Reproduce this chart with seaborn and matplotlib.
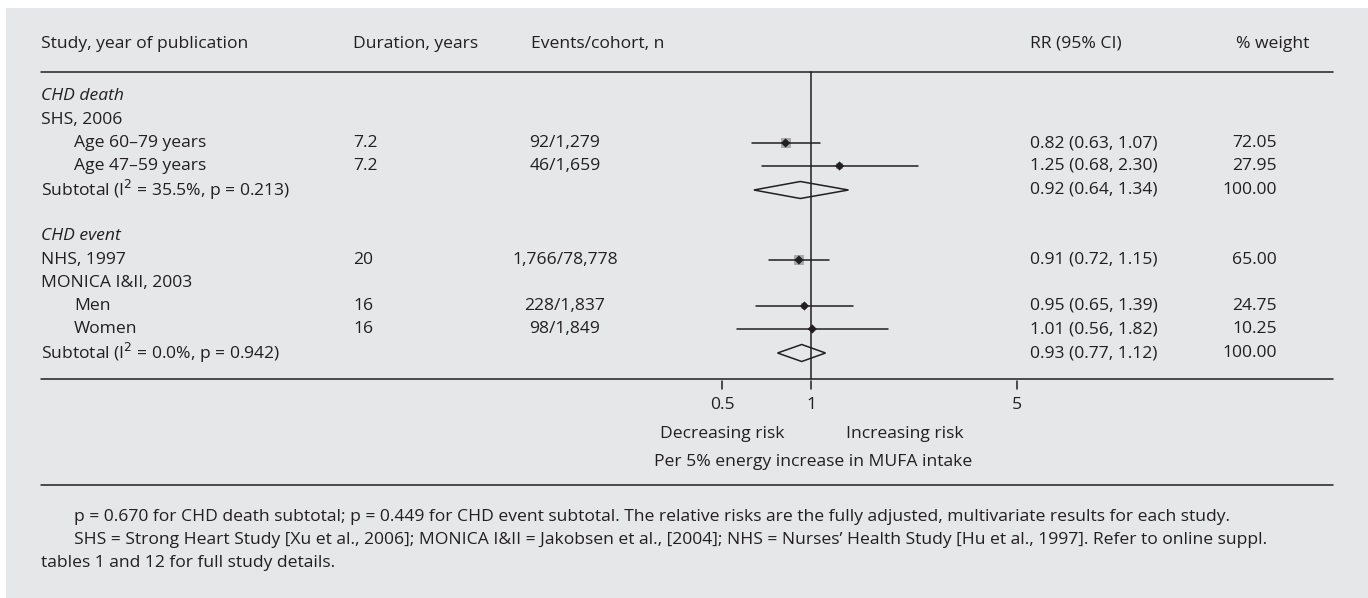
import numpy as np
import pandas as pd
import seaborn as sns
import matplotlib.pyplot as plt
from matplotlib.patches import Polygon, Rectangle

studies = ["SHS, 2006", "Age 60–79 years", "Age 47–59 years", "NHS, 1997", "MONICA I&II, 2003", "Men", "Women"]
durations = ["", "7.2", "7.2", "20", "", "16", "16"]
events = ["", "92/1,279", "46/1,659", "1,766/78,778", "", "228/1,837", "98/1,849"]
rr = [np.nan, 0.82, 1.25, 0.91, np.nan, 0.95, 1.01]
lo = [np.nan, 0.63, 0.68, 0.72, np.nan, 0.65, 0.56]
hi = [np.nan, 1.07, 2.30, 1.15, np.nan, 1.39, 1.82]
weights = [np.nan, 72.05, 27.95, 65.00, np.nan, 24.75, 10.25]
sub_labels = ["Subtotal (I$^2$ = 35.5%, p = 0.213)", "Subtotal (I$^2$ = 0.0%, p = 0.942)"]
sub_rr = [0.92, 0.93]
sub_lo = [0.64, 0.77]
sub_hi = [1.34, 1.12]
ticks = [0.5, 1, 5]

sns.set_theme(style="white")
plt.rcParams['font.family'] = ['Open Sans', 'DejaVu Sans']
bg = "#e6e7e8"
ink = "#231f20"
fs = 12.6

fig = plt.figure(figsize=(13.68, 5.98), dpi=100, facecolor="white")
ax = fig.add_axes([0, 0, 1, 1])
ax.set_xlim(0, 1368)
ax.set_ylim(598, 0)
ax.axis("off")
ax.add_patch(Rectangle((6, 8), 1362, 590, color=bg, lw=0, zorder=0))

# forest axes: 1 at x=811px, 128 px per ln unit
x0, x1 = 660, 1030
fax = fig.add_axes([x0 / 1368, 0, (x1 - x0) / 1368, 1])
fax.set_facecolor("none")
fax.set_xscale("log")
fax.set_xlim(np.exp((x0 - 811) / 128), np.exp((x1 - 811) / 128))
fax.set_ylim(598, 0)
fax.axis("off")

def t(x, y, s, **kw):
    kw.setdefault("fontsize", fs)
    ax.text(x, y, s, va="center", color=ink, **kw)

# headers and rules
t(41, 44, "Study, year of publication")
t(353, 44, "Duration, years")
t(531, 44, "Events/cohort, n")
t(1030, 44, "RR (95% CI)")
t(1309, 44, "% weight", ha="right")
for yy in [72, 379, 485]:
    ax.plot([41, 1333], [yy, yy], color=ink, lw=1.1)

study_y = [120, 143, 166, 260, 283, 306, 329]
indent = [0, 1, 1, 0, 0, 1, 1]
t(41, 96, "CHD death", style="italic")
t(41, 236, "CHD event", style="italic")
for s, yy, ind, d, e, r, l, h, w in zip(studies, study_y, indent, durations, events, rr, lo, hi, weights):
    t(74 if ind else 41, yy, s)
    t(353, yy, d)
    t(565, yy, e, ha="center")
    if not np.isnan(r):
        t(1030, yy, f"{r:.2f} ({l:.2f}, {h:.2f})")
        t(1277, yy, f"{w:.2f}", ha="right")

sub_y = [190, 353]
for s, yy, r, l, h in zip(sub_labels, sub_y, sub_rr, sub_lo, sub_hi):
    t(41, yy, s)
    t(1030, yy, f"{r:.2f} ({l:.2f}, {h:.2f})")
    t(1277, yy, "100.00", ha="right")
    fax.add_patch(Polygon([[l, yy], [r, yy - 8.5], [h, yy], [r, yy + 8.5]],
                          closed=True, fill=False, ec=ink, lw=1.1))

# CIs, weight boxes and points
df = pd.DataFrame({"rr": rr, "lo": lo, "hi": hi, "w": weights, "y": study_y}).dropna()
for _, row in df.iterrows():
    fax.plot([row.lo, row.hi], [row.y, row.y], color=ink, lw=1.1)
    half = 0.6 * np.sqrt(row.w)  # box half-size in px
    fax.add_patch(Rectangle((row.rr * np.exp(-half / 128), row.y - half),
                            row.rr * (np.exp(half / 128) - np.exp(-half / 128)), 2 * half,
                            color="#a7a9ac", lw=0))
sns.scatterplot(data=df, x="rr", y="y", ax=fax, color=ink, marker="D", s=22,
                edgecolor="none", zorder=5, legend=False)

fax.plot([1, 1], [72, 379], color=ink, lw=1.1)
for tk in ticks:
    fax.plot([tk, tk], [381, 389], color=ink, lw=1.1)
    fax.text(tk, 405, f"{tk:g}", ha="center", va="center", fontsize=fs, color=ink)
fax.text(0.816, 434, "Decreasing risk", ha="right", va="center", fontsize=fs, color=ink)
fax.text(1.31, 434, "Increasing risk", ha="left", va="center", fontsize=fs, color=ink)
fax.text(1.02, 462, "Per 5% energy increase in MUFA intake", ha="center", va="center",
         fontsize=fs, color=ink)

t(74, 517, "p = 0.670 for CHD death subtotal; p = 0.449 for CHD event subtotal. The relative risks are the fully adjusted, multivariate results for each study.")
t(74, 540, "SHS = Strong Heart Study [Xu et al., 2006]; MONICA I&II = Jakobsen et al., [2004]; NHS = Nurses’ Health Study [Hu et al., 1997]. Refer to online suppl.")
t(41, 563, "tables 1 and 12 for full study details.")

fig.savefig("out.png", dpi=100, facecolor="white")
